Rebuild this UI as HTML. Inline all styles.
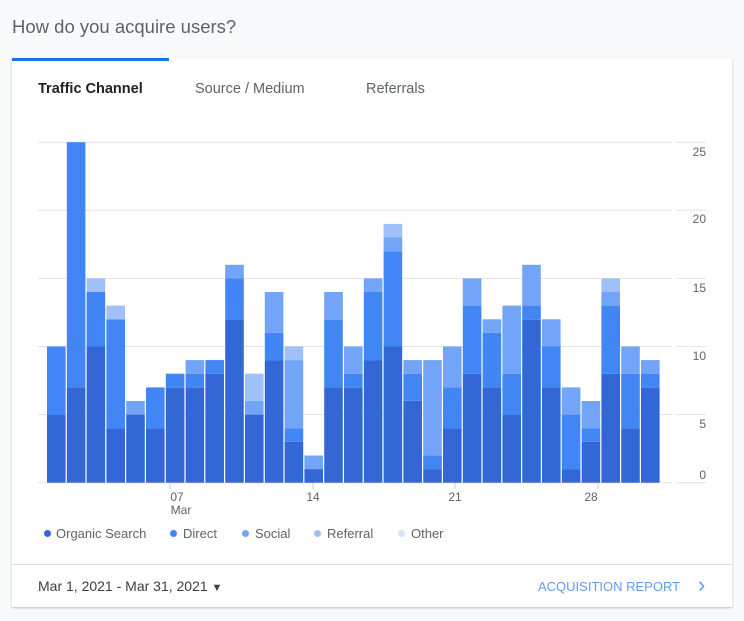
<!DOCTYPE html>
<html><head><meta charset="utf-8"><style>
body{margin:0;width:744px;height:621px;background:#f8f9fa;font-family:"Liberation Sans",Arial,sans-serif;overflow:hidden;position:relative}
.t{position:absolute;white-space:nowrap}
.lg{position:absolute;top:526px;font-size:13px;color:#5f6368;white-space:nowrap}
.dot{position:absolute;top:530px;width:7px;height:7px;border-radius:50%}
</style></head><body>
<div class="t" style="left:12px;top:16px;font-size:18.5px;color:#5f6368">How do you acquire users?</div>
<div style="position:absolute;left:12px;top:58px;width:720px;height:549px;background:#fff;box-shadow:0 1px 2px rgba(60,64,67,.3)"></div>
<div style="position:absolute;left:12px;top:58px;width:157px;height:3px;background:#1a73e8"></div>
<div class="t" style="left:38px;top:81px;font-size:14.5px;color:#202124;font-weight:bold">Traffic Channel</div>
<div class="t" style="left:195px;top:81px;font-size:14.5px;color:#5f6368">Source / Medium</div>
<div class="t" style="left:366px;top:81px;font-size:14.5px;color:#5f6368">Referrals</div>
<svg id="c" style="position:absolute;left:0;top:0" width="744" height="621"></svg>
<div class="dot" style="left:44px;background:#3367d6"></div><div class="lg" style="left:56px">Organic Search</div>
<div class="dot" style="left:170px;background:#4285f4"></div><div class="lg" style="left:183px">Direct</div>
<div class="dot" style="left:242px;background:#72a4f7"></div><div class="lg" style="left:255px">Social</div>
<div class="dot" style="left:314px;background:#a0c0f9"></div><div class="lg" style="left:327px">Referral</div>
<div class="dot" style="left:398px;background:#d2e3fc"></div><div class="lg" style="left:411px">Other</div>
<div style="position:absolute;left:12px;top:564px;width:720px;height:1px;background:#e0e0e0"></div>
<div class="t" style="left:38px;top:578px;font-size:14px;color:#3c4043">Mar 1, 2021 - Mar 31, 2021 <span style="font-size:11px">▼</span></div>
<div class="t" style="left:538px;top:579px;font-size:13px;color:#5f9cf0">ACQUISITION REPORT</div>
<div class="t" style="left:698px;top:572px;font-size:22px;color:#5f9cf0">›</div>
<script>
var d=[[5,10],[7,25],[10,14,14,15],[4,12,12,13],[5,5,6],[4,7],[7,8],[7,8,9],[8,9],[12,15,16],[5,5,6,8],[9,11,14],[3,4,9,10],[1,1,2],[7,12,14],[7,8,10],[9,14,15],[10,17,18,19],[6,8,9],[1,2,9],[4,7,10],[8,13,15],[7,11,12],[5,8,13],[12,13,16],[7,10,12],[1,5,7],[3,4,6],[8,13,14,15],[4,8,10],[7,8,9]];
var col=["#3367d6","#4285f4","#72a4f7","#a0c0f9"];
var s="";
function Y(v){return 482.7-13.62*v}
[0,5,10,15,20,25].forEach(function(v){var y=Y(v).toFixed(1);s+='<line x1="38" x2="672" y1="'+y+'" y2="'+y+'" stroke="#e3e3e3" stroke-width="1"/><line x1="676" x2="706" y1="'+y+'" y2="'+y+'" stroke="#e3e3e3"/>';});
var ly={25:152,20:219,15:288,10:356,5:424,0:475};
for(var k in ly)s+='<text x="706" y="'+(ly[k]+4)+'" text-anchor="end" font-size="12" fill="#5f6368" font-family="Liberation Sans,sans-serif">'+k+'</text>';
d.forEach(function(b,i){var x=47+19.8*i,p=0;b.forEach(function(v,j){if(v>p){s+='<rect x="'+x.toFixed(1)+'" width="18.6" y="'+Y(v).toFixed(1)+'" height="'+(13.62*(v-p)).toFixed(1)+'" fill="'+col[j]+'"/>';}p=v;});});
[[170,"07",177],[313,"14",313],[455,"21",455],[598,"28",591]].forEach(function(t){s+='<line x1="'+t[0]+'" x2="'+t[0]+'" y1="483" y2="489" stroke="#ccc"/><text x="'+t[2]+'" y="501" text-anchor="middle" font-size="12" fill="#5f6368" font-family="Liberation Sans,sans-serif">'+t[1]+'</text>';});
s+='<text x="181" y="514" text-anchor="middle" font-size="12" fill="#5f6368" font-family="Liberation Sans,sans-serif">Mar</text>';
document.getElementById("c").innerHTML=s;
</script>
</body></html>
